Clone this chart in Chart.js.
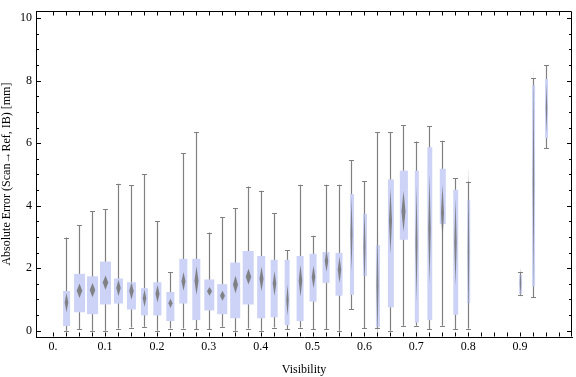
<!DOCTYPE html>
<html>
<head>
<meta charset="utf-8">
<script src="https://cdn.jsdelivr.net/npm/chart.js@4/dist/chart.umd.min.js"></script>
<style>
  html, body { margin: 0; padding: 0; background: #fff; }
</style>
</head>
<body>
<canvas id="chart" width="576" height="377"></canvas>
<script>
// visibility bins (box centres)
const visibility = [0.025, 0.05, 0.075, 0.1, 0.125, 0.15, 0.175, 0.2, 0.225, 0.25,
  0.275, 0.3, 0.325, 0.35, 0.375, 0.4, 0.425, 0.45, 0.475, 0.5,
  0.525, 0.55, 0.575, 0.6, 0.625, 0.65, 0.675, 0.7, 0.725, 0.75,
  0.775, 0.8, 0.9, 0.925, 0.95];

// absolute error [mm]
const whiskerLow = [0.00, 0.04, 0.00, 0.00, 0.07, 0.10, 0.13, 0.00, 0.07, 0.07,
  0.04, 0.04, 0.13, 0.00, 0.07, 0.00, 0.10, 0.04, 0.10, 0.04,
  0.04, 0.00, 0.69, 0.09, 0.09, 0.00, 0.16, 0.16, 0.04, 0.16,
  0.04, 0.07, 1.15, 1.07, 5.83];
const quartile1 = [0.15, 0.59, 0.53, 0.84, 0.87, 0.68, 0.49, 0.49, 0.31, 0.87,
  0.34, 0.65, 0.53, 0.40, 0.84, 0.40, 0.43, 0.18, 0.31, 0.93,
  1.53, 1.12, 1.15, 1.75, 0.12, 0.75, 2.91, 0.26, 0.34, 3.41,
  0.51, 0.88, 1.18, 1.42, 6.16];
const median = [0.90, 1.28, 1.30, 1.54, 1.37, 1.27, 1.04, 1.18, 0.88, 1.58,
  1.60, 1.26, 1.12, 1.48, 1.73, 1.66, 1.51, 0.98, 1.60, 1.72,
  2.23, 1.95, 3.09, 2.68, 1.46, 3.51, 3.82, 2.78, 3.25, 3.77,
  2.83, 2.52, 1.53, 4.75, 7.11];
const quartile3 = [1.27, 1.82, 1.74, 2.21, 1.67, 1.55, 1.36, 1.55, 1.24, 2.30,
  2.30, 1.64, 1.49, 2.18, 2.55, 2.39, 2.27, 2.27, 2.39, 2.46,
  2.52, 2.49, 4.37, 3.74, 2.74, 4.84, 5.12, 5.12, 5.87, 5.18,
  4.51, 4.18, 1.79, 7.86, 8.05];
const whiskerHigh = [2.98, 3.37, 3.82, 3.89, 4.70, 4.65, 5.01, 3.51, 1.88, 5.67,
  6.36, 3.14, 3.64, 3.92, 4.61, 4.48, 3.76, 2.57, 4.67, 3.04,
  4.67, 4.67, 5.45, 4.79, 6.36, 6.36, 6.58, 6.05, 6.55, 6.08,
  4.88, 4.77, 1.87, 8.08, 8.49];
// half height of the median diamond (confidence spread)
const diamondHalf = [0.31, 0.23, 0.23, 0.23, 0.26, 0.27, 0.28, 0.28, 0.15, 0.30,
  0.46, 0.14, 0.16, 0.28, 0.25, 0.39, 0.39, 0.50, 0.51, 0.36,
  0.34, 0.42, 1.20, 1.25, 1.72, 1.05, 0.65, 1.85, 1.75, 0.90,
  1.40, 2.76, 0.47, 3.70, 0.80];
// relative box width (fraction of the bin spacing)
const boxWidth = [0.54, 0.85, 0.85, 0.85, 0.69, 0.69, 0.54, 0.62, 0.62, 0.62,
  0.62, 0.77, 0.77, 0.77, 0.85, 0.62, 0.54, 0.38, 0.54, 0.54,
  0.54, 0.54, 0.31, 0.31, 0.31, 0.46, 0.62, 0.31, 0.38, 0.46,
  0.38, 0.23, 0.23, 0.23, 0.23];

const xLabels = [0, 0.1, 0.2, 0.3, 0.4, 0.5, 0.6, 0.7, 0.8, 0.9];
const yLabels = [0, 2, 4, 6, 8, 10];

const serif = 'Liberation Serif';

// box-whisker marks, positioned with the chart scales
const boxWhisker = {
  id: 'boxWhisker',
  afterDatasetsDraw(chart) {
    const ctx = chart.ctx;
    const xs = chart.scales.x, ys = chart.scales.y;
    const step = xs.getPixelForValue(0.025) - xs.getPixelForValue(0);
    ctx.save();
    for (let i = 0; i < visibility.length; i++) {
      const cx = xs.getPixelForValue(visibility[i]);
      const w = boxWidth[i] * step;
      const lx = Math.round(cx) + 0.5;
      // whisker
      ctx.strokeStyle = '#808080';
      ctx.lineWidth = 1.2;
      ctx.beginPath();
      ctx.moveTo(lx, ys.getPixelForValue(whiskerLow[i]));
      ctx.lineTo(lx, ys.getPixelForValue(whiskerHigh[i]));
      for (const v of [whiskerLow[i], whiskerHigh[i]]) {
        const py = Math.round(ys.getPixelForValue(v)) + 0.5;
        ctx.moveTo(lx - 2.5, py);
        ctx.lineTo(lx + 2.5, py);
      }
      ctx.stroke();
      // box
      const top = ys.getPixelForValue(quartile3[i]);
      const bot = ys.getPixelForValue(quartile1[i]);
      ctx.fillStyle = 'rgb(204,211,246)';
      ctx.fillRect(cx - w / 2 + 0.5, top, w, bot - top);
      // median diamond
      const my = ys.getPixelForValue(median[i]);
      const dt = ys.getPixelForValue(median[i] + diamondHalf[i]);
      const db = ys.getPixelForValue(median[i] - diamondHalf[i]);
      const dw = w * 0.5 / 2;
      ctx.fillStyle = 'rgba(120,120,120,0.9)';
      ctx.beginPath();
      ctx.moveTo(lx, dt);
      ctx.lineTo(lx + dw, my);
      ctx.lineTo(lx, db);
      ctx.lineTo(lx - dw, my);
      ctx.closePath();
      ctx.fill();
    }
    ctx.restore();
  }
};

// frame with inward ticks
const frame = {
  id: 'frame',
  afterDraw(chart) {
    const ctx = chart.ctx;
    const a = chart.chartArea;
    const xs = chart.scales.x, ys = chart.scales.y;
    ctx.save();
    ctx.strokeStyle = '#000';
    ctx.lineWidth = 1;
    ctx.beginPath();
    const L = Math.round(a.left) + 0.5, R = Math.round(a.right) - 0.5;
    const T = Math.round(a.top) + 0.5, B = Math.round(a.bottom) - 0.5;
    ctx.moveTo(L, T); ctx.lineTo(R, T); ctx.lineTo(R, B);
    for (let k = 0; k < 40; k++) {
      const px = Math.round(xs.getPixelForValue(k * 0.025)) + 0.5;
      ctx.moveTo(px, B); ctx.lineTo(px, B - 4);
      ctx.moveTo(px, T); ctx.lineTo(px, T + 4);
    }
    for (let k = 0; k <= 20; k++) {
      const py = Math.round(ys.getPixelForValue(k * 0.5)) + 0.5;
      const len = k % 4 === 0 ? 4.5 : 2.5;
      ctx.moveTo(L, py); ctx.lineTo(L + len, py);
      ctx.moveTo(R, py); ctx.lineTo(R - len, py);
    }
    ctx.stroke();
    ctx.restore();
  }
};

new Chart(document.getElementById('chart'), {
  type: 'scatter',
  data: { datasets: [{ data: [], showLine: false, pointRadius: 0 }] },
  options: {
    responsive: false,
    animation: false,
    layout: { padding: { top: 4, right: 4, left: 0, bottom: 0 } },
    plugins: { legend: { display: false }, tooltip: { enabled: false } },
    scales: {
      x: {
        type: 'linear',
        min: -0.033,
        max: 1.0,
        grid: { display: false, drawTicks: false },
        border: { display: true, color: '#000', width: 1 },
        afterBuildTicks: s => { s.ticks = xLabels.map(v => ({ value: v })); },
        afterFit: s => { s.height = 40; },
        ticks: {
          color: '#000',
          padding: 3,
          maxRotation: 0,
          autoSkip: false,
          font: { family: serif, size: 12 },
          callback: v => v === 0 ? '0.' : v.toFixed(1)
        },
        title: {
          display: true, text: 'Visibility', color: '#000', padding: 0,
          font: { family: serif, size: 12 }
        }
      },
      y: {
        type: 'linear',
        min: -0.2,
        max: 10.22,
        grid: { display: false, drawTicks: false },
        border: { display: true, color: '#000', width: 1 },
        afterBuildTicks: s => { s.ticks = yLabels.map(v => ({ value: v })); },
        afterFit: s => { s.width = 36; },
        ticks: {
          color: '#000',
          padding: 4,
          font: { family: serif, size: 12 },
          callback: v => String(v)
        },
        title: {
          display: true, text: 'Absolute Error (Scan\u2192Ref, IB) [mm]', color: '#000', padding: 0,
          font: { family: serif, size: 12 }
        }
      }
    }
  },
  plugins: [boxWhisker, frame]
});
</script>
</body>
</html>
